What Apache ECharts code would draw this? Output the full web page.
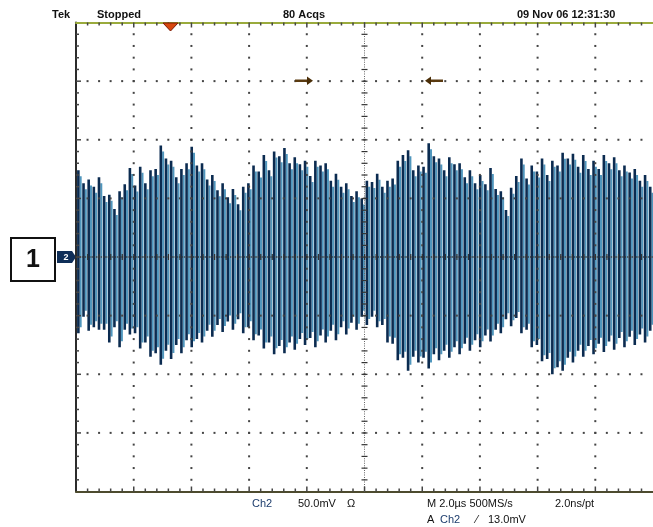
<!DOCTYPE html>
<html><head><meta charset="utf-8">
<script src="https://cdn.jsdelivr.net/npm/echarts@6/dist/echarts.min.js"></script>
<style>html,body{margin:0;padding:0;background:#fff;}#c{width:653px;height:527px;}</style>
</head><body><div id="c"></div>
<script>
// ---- data ----
const timeDivs = [0, 2, 4, 6, 8, 10, 12, 14, 16, 18, 20];          // µs (2.0 µs/div)
const voltDivs = [-200, -150, -100, -50, 0, 50, 100, 150, 200];    // mV (50.0 mV/div)
const sweepLength = 20;   // µs across the screen
const upperPeaks = [74,63,66,60,68,52,53,41,56,62, 76,61,77,63,74,75,95,84,82,68,
  75,80,94,78,80,66,70,57,63,51, 58,45,60,63,78,73,87,74,90,86,
  93,80,85,79,82,69,82,78,80,65, 71,60,63,52,56,50,65,64,71,60,
  65,67,82,87,91,74,78,77,97,86, 84,74,85,79,80,68,74,63,70,62,
  76,58,56,40,59,69,84,67,78,73, 84,70,82,78,89,84,88,77,87,75,
  82,75,87,80,85,74,78,72,75,65, 70,60];
const lowerPeaks = [-65,-51,-63,-60,-62,-62,-73,-60,-77,-62, -66,-65,-78,-73,-85,-82,-92,-80,-87,-75,
  -82,-71,-77,-70,-73,-63,-68,-58,-64,-55, -62,-53,-65,-60,-71,-67,-78,-73,-83,-76,
  -82,-73,-79,-70,-75,-69,-77,-67,-73,-63, -71,-60,-66,-56,-62,-51,-58,-51,-60,-58,
  -73,-74,-88,-86,-97,-85,-90,-86,-95,-83, -88,-80,-86,-77,-83,-74,-80,-71,-77,-67,
  -72,-62,-65,-53,-59,-52,-65,-62,-77,-75, -89,-87,-100,-94,-97,-86,-90,-80,-85,-76,
  -83,-74,-81,-72,-79,-69,-77,-68,-75,-66, -73,-63];
const headerTexts = ['Tek', 'Stopped', '80 Acqs', '09 Nov 06 12:31:30'];

// ---- build ----
const n = upperPeaks.length;
const waveData = upperPeaks.map((u, i) => [(i + 0.5) * sweepLength / n, lowerPeaks[i], u]);
const tMin = timeDivs[0], tMax = timeDivs[timeDivs.length - 1];
const vMin = voltDivs[0], vMax = voltDivs[voltDivs.length - 1];
const tDiv = timeDivs[1] - timeDivs[0], vDiv = voltDivs[1] - voltDivs[0];
const tCenter = (tMin + tMax) / 2, vCenter = 0;

function renderGrat(params, api) {
  const ch = [];
  const rect = (x, y, w, h, c) => ch.push({type: 'rect', shape: {x: x, y: y, width: w, height: h}, style: {fill: c}});
  const dot = (p, s, c) => rect(p[0] - s / 2, p[1] - s / 2, s, s, c);
  const nT = Math.round((tMax - tMin) / tDiv) * 5, nV = Math.round((vMax - vMin) / vDiv) * 5;
  timeDivs.forEach(t => {
    if (t === tMin || t === tMax || t === tCenter) return;
    for (let k = 1; k < nV; k++) dot(api.coord([t, vMin + k * vDiv / 5]), 2, '#444');
  });
  voltDivs.forEach(v => {
    if (v === vMin || v === vMax || v === vCenter) return;
    for (let k = 1; k < nT; k++) dot(api.coord([tMin + k * tDiv / 5, v]), 2, '#444');
  });
  for (let k = 0; k <= nV * 5; k++) dot(api.coord([tCenter, vMin + k * vDiv / 25]), 1, '#666');
  for (let k = 1; k < nV; k++) { const p = api.coord([tCenter, vMin + k * vDiv / 5]); rect(p[0] - 3, p[1] - 0.5, 6, 1.2, '#333'); }
  for (let k = 0; k <= nT * 5; k++) dot(api.coord([tMin + k * tDiv / 25, vCenter]), 1.3, '#333');
  for (let k = 1; k < nT; k++) { const p = api.coord([tMin + k * tDiv / 5, vCenter]); rect(p[0] - 0.5, p[1] - 3, 1.2, 6, '#333'); }
  for (let k = 1; k < nT; k++) {
    const t = tMin + k * tDiv / 5;
    const pt = api.coord([t, vMax]), pb = api.coord([t, vMin]);
    const big = (k % 5 === 0) ? 5 : 3;
    rect(pt[0] - 0.7, pt[1], 1.5, big, '#444');
    rect(pb[0] - 0.7, pb[1] - big, 1.5, big, '#444');
  }
  for (let k = 1; k < nV; k++) {
    const p = api.coord([tMin, vMin + k * vDiv / 5]);
    const big = (k % 5 === 0) ? 5 : 3;
    rect(p[0], p[1] - 0.7, big, 1.5, '#444');
  }
  return {type: 'group', children: ch};
}

function renderWave(params, api) {
  const x = api.coord([api.value(0), 0])[0];
  const yLo = api.coord([0, api.value(1)])[1];
  const yHi = api.coord([0, api.value(2)])[1];
  return {type: 'group', children: [
    {type: 'rect', shape: {x: x + 1.1, y: yHi + 6, width: 2.0, height: yLo - yHi - 12}, style: {fill: '#4f96bd'}},
    {type: 'rect', shape: {x: x - 1.5, y: yHi, width: 2.6, height: yLo - yHi}, style: {fill: '#0b2b50'}}
  ]};
}

const font = "'Liberation Sans', Arial, sans-serif";
const txt = (x, y, s, o) => ({type: 'text', x: x, y: y, style: Object.assign({text: s, fill: '#111', font: 'bold 11px ' + font, textVerticalAlign: 'top'}, o || {})});
const bot = (x, y, s, c) => txt(x, y, s, {font: '11px ' + font, fill: c || '#111'});

const chart = echarts.init(document.getElementById('c'), null, {renderer: 'canvas'});
chart.setOption({
  animation: false,
  backgroundColor: '#ffffff',
  grid: {left: 76, top: 22.5, width: 584, height: 469, containLabel: false},
  xAxis: [
    {type: 'value', min: tMin, max: tMax, interval: tDiv, position: 'bottom',
      axisLine: {show: true, onZero: false, lineStyle: {color: '#4d4b2e', width: 2}},
      axisTick: {show: false}, axisLabel: {show: false}, splitLine: {show: false}},
    {type: 'value', min: tMin, max: tMax, interval: tDiv, position: 'top',
      axisLine: {show: true, onZero: false, lineStyle: {color: '#9aab3c', width: 2}},
      axisTick: {show: false}, axisLabel: {show: false}, splitLine: {show: false}}
  ],
  yAxis: {type: 'value', min: vMin, max: vMax, interval: vDiv,
    axisLine: {show: true, onZero: false, lineStyle: {color: '#2b2b2b', width: 2}},
    axisTick: {show: false}, axisLabel: {show: false}, splitLine: {show: false}},
  series: [
    {type: 'custom', name: 'Ch2', data: waveData, renderItem: renderWave, clip: true, z: 2, silent: true},
    {type: 'custom', name: 'graticule', data: [[0, 0]], renderItem: renderGrat, z: 3, silent: true}
  ],
  graphic: [
    txt(52, 9, headerTexts[0]),
    txt(97, 9, headerTexts[1]),
    txt(283, 9, headerTexts[2]),
    txt(517, 9, headerTexts[3]),
    bot(252, 498, 'Ch2', '#1c3c6c'),
    bot(298, 498, '50.0mV'),
    bot(347, 498, 'Ω'),
    bot(427, 498, 'M 2.0µs 500MS/s'),
    bot(555, 498, '2.0ns/pt'),
    bot(427, 514, 'A'),
    bot(440, 514, 'Ch2', '#1c3c6c'),
    bot(476, 514, '⁄'),
    bot(488, 514, '13.0mV'),
    {type: 'rect', shape: {x: 11, y: 238, width: 44, height: 43}, style: {fill: '#fff', stroke: '#111', lineWidth: 2}},
    {type: 'text', x: 33, y: 260, style: {text: '1', font: 'bold 25px ' + font, fill: '#111', textAlign: 'center', textVerticalAlign: 'middle'}},
    {type: 'polygon', shape: {points: [[57, 251], [72, 251], [76, 257], [72, 263], [57, 263]]}, style: {fill: '#0f2e58'}},
    {type: 'text', x: 66, y: 257.5, style: {text: '2', font: 'bold 9px ' + font, fill: '#fff', textAlign: 'center', textVerticalAlign: 'middle'}},
    {type: 'polygon', shape: {points: [[163, 23], [178, 23], [170.5, 31]]}, style: {fill: '#d9480f', stroke: '#7a1a05', lineWidth: 1}, z: 10},
    {type: 'rect', shape: {x: 295, y: 79.5, width: 13, height: 2.5}, style: {fill: '#5a3a10'}, z: 10},
    {type: 'polygon', shape: {points: [[307, 76.5], [313, 80.7], [307, 85]]}, style: {fill: '#4a2e08'}, z: 10},
    {type: 'rect', shape: {x: 430, y: 79.5, width: 13, height: 2.5}, style: {fill: '#5a3a10'}, z: 10},
    {type: 'polygon', shape: {points: [[431, 76.5], [425, 80.7], [431, 85]]}, style: {fill: '#4a2e08'}, z: 10}
  ]
});
</script></body></html>
